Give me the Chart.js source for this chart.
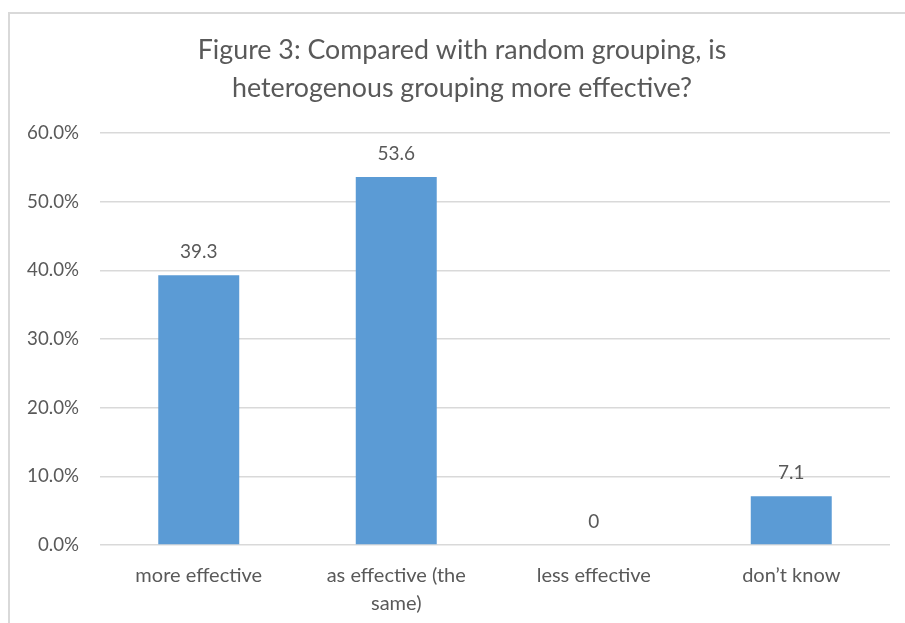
<!DOCTYPE html>
<html>
<head>
<meta charset="utf-8">
<script src="https://cdn.jsdelivr.net/npm/chart.js@4"></script>
<style>
  html, body { margin: 0; padding: 0; background: #fff; }
  #wrap { position: relative; width: 905px; height: 623px; overflow: hidden; }
  #frame {
    position: absolute; left: 8px; top: 12px; width: 1000px; height: 1000px;
    border-top: 2px solid #d9d9d9; border-left: 2px solid #d9d9d9;
  }
  canvas { position: absolute; left: 0; top: 0; }
</style>
</head>
<body>
<div id="wrap">
  <div id="frame"></div>
  <canvas id="chart" width="905" height="623"></canvas>
</div>
<script>
const categories = [
  "more effective",
  ["as effective (the", "same)"],
  "less effective",
  "don\u2019t know",
];
const percentages = [39.3, 53.6, 0, 7.1];
const yTicks = [0, 10, 20, 30, 40, 50, 60];
const titleLines = [
  "Figure 3: Compared with random grouping, is",
  "heterogenous grouping more effective?",
];

const TEXT = "#595959";
const FONT = "Lato, 'Open Sans', sans-serif";

// two-line heading, centred a little right of the plot centre
const heading = {
  id: "heading",
  afterDraw(chart) {
    const ctx = chart.ctx;
    ctx.save();
    ctx.fillStyle = TEXT;
    ctx.font = `26.8px ${FONT}`;
    ctx.textAlign = "center";
    ctx.textBaseline = "alphabetic";
    titleLines.forEach((line, i) => {
      ctx.fillText(line, 462, 59 + i * 38);
    });
    ctx.restore();
  },
};

// writes each bar's value just above its top edge
const valueLabels = {
  id: "valueLabels",
  afterDatasetsDraw(chart) {
    const ctx = chart.ctx;
    const meta = chart.getDatasetMeta(0);
    ctx.save();
    ctx.fillStyle = TEXT;
    ctx.font = `19px ${FONT}`;
    ctx.textAlign = "center";
    ctx.textBaseline = "alphabetic";
    meta.data.forEach((bar, i) => {
      ctx.fillText(String(percentages[i]), bar.x, bar.y - 17);
    });
    ctx.restore();
  },
};

new Chart(document.getElementById("chart"), {
  type: "bar",
  data: {
    labels: categories,
    datasets: [
      {
        data: percentages,
        backgroundColor: "#5b9bd5",
        borderWidth: 0,
        categoryPercentage: 1,
        barPercentage: 0.41,
      },
    ],
  },
  options: {
    responsive: false,
    animation: false,
    layout: { padding: { left: 0, right: 15, top: 133, bottom: 0 } },
    plugins: {
      legend: { display: false },
      tooltip: { enabled: false },
      title: { display: false },
    },
    scales: {
      x: {
        grid: { display: false },
        border: { display: false },
        ticks: {
          color: TEXT,
          font: { family: FONT, size: 20, lineHeight: 1.42 },
          padding: 8,
          maxRotation: 0,
          autoSkip: false,
        },
        afterFit(scale) {
          scale.height = 78;
        },
      },
      y: {
        min: 0,
        max: 60,
        afterBuildTicks(scale) {
          scale.ticks = yTicks.map((v) => ({ value: v }));
        },
        grid: { color: "#d9d9d9", lineWidth: 1.5, drawTicks: false },
        border: { display: false },
        ticks: {
          color: TEXT,
          font: { family: FONT, size: 18.7 },
          padding: 21,
          callback: (v) => v.toFixed(1) + "%",
        },
        afterFit(scale) {
          scale.width = 100;
        },
      },
    },
  },
  plugins: [valueLabels, heading],
});
</script>
</body>
</html>
